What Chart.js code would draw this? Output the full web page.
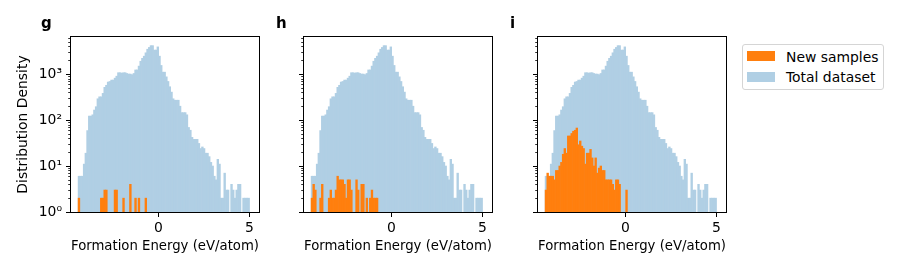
<!DOCTYPE html>
<html>
<head>
<meta charset="utf-8">
<script src="https://cdn.jsdelivr.net/npm/chart.js@4.4.1/dist/chart.umd.min.js"></script>
<style>
  html, body { margin: 0; padding: 0; background: #ffffff; }
  body { width: 900px; height: 270px; position: relative; overflow: hidden; font-family: "DejaVu Sans", sans-serif; color: #000; }
  canvas { position: absolute; top: 0; }
  .panel-letter { position: absolute; font-family: "DejaVu Sans", sans-serif; font-weight: bold; font-size: 15px; line-height: 15px; white-space: nowrap; }
  .legend-box { position: absolute; left: 742px; top: 44px; width: 142px; height: 46px; box-sizing: border-box; border: 1px solid #d5d5d5; border-radius: 3px; background: rgba(255,255,255,0.8); }
  .legend-patch { position: absolute; width: 28px; height: 10px; }
  .legend-text { position: absolute; font-family: "DejaVu Sans", sans-serif; font-size: 13.9px; line-height: 14px; white-space: nowrap; }
</style>
</head>
<body>
<canvas id="cg" width="265" height="270" style="left:0px"></canvas>
<canvas id="ch" width="220" height="270" style="left:280px"></canvas>
<canvas id="ci" width="220" height="270" style="left:515px"></canvas>

<div class="panel-letter" style="left:41px; top:16px;">g</div>
<div class="panel-letter" style="left:276px; top:16px;">h</div>
<div class="panel-letter" style="left:510px; top:16px;">i</div>

<div class="legend-box"></div>
<div class="legend-patch" style="left:747px; top:51px; background:#ff7f0e;"></div>
<div class="legend-text" style="left:786px; top:50px;">New samples</div>
<div class="legend-patch" style="left:747px; top:72px; background:rgb(176,207,228);"></div>
<div class="legend-text" style="left:786px; top:70px;">Total dataset</div>

<script>
// ---------------- data ----------------
// histogram bins (100 equal bins of formation energy, eV/atom)
const binStart = -4.42;
const binWidth = 0.0942;
const binCount = 100;

// total dataset counts per bin (shared by all three panels)
const totalCounts = [
  6, 6, 6, 11, 19, 59, 122, 122, 130, 165,
  195, 290, 320, 320, 380, 515, 570, 670, 690, 740,
  740, 815, 900, 1070, 1070, 1050, 1070, 1070, 1030, 1000,
  1000, 970, 1030, 1230, 1230, 1490, 1900, 2200, 2450, 2900,
  3470, 3800, 4150, 4150, 3330, 3330, 3900, 2450, 1540, 1100,
  1100, 870, 690, 530, 405, 290, 270, 270, 270, 200,
  145, 145, 145, 130, 69, 60, 42, 38, 38, 38,
  31, 24, 26, 24, 19, 19, 16, 12, 10, 6,
  5, 14, 11, 2, 2, 7, 3, 3, 0, 4,
  3, 2, 3, 4, 4, 0, 2, 2, 2, 2
];

// new samples counts per bin, panel g
const newSamplesG = [
  2, 0, 0, 0, 0, 0, 0, 0, 0, 0,
  0, 0, 0, 2, 2, 3, 3, 0, 0, 0,
  0, 3, 3, 0, 0, 0, 2, 0, 0, 0,
  4, 0, 0, 2, 0, 2, 0, 0, 0, 2
];

// new samples counts per bin, panel h
const newSamplesH = [
  2, 4, 3, 0, 0, 2, 4, 0, 0, 0,
  2, 3, 2, 2, 3, 6, 5, 5, 5, 4,
  2, 5, 5, 3, 0, 0, 5, 3, 0, 4,
  4, 0, 2, 0, 2, 3, 2, 2, 2
];

// new samples counts per bin, panel i
const newSamplesI = [
  3, 7, 6, 6, 6, 5, 8, 8, 10, 12,
  18, 24, 19, 45, 45, 51, 57, 60, 67, 29,
  35, 27, 24, 11, 19, 19, 23, 15, 10, 15,
  7, 9, 10, 8, 8, 5, 5, 5, 5, 4,
  3, 5, 5, 4, 0, 0, 0, 3
];

// axis settings
const xLimits = [-4.81, 5.52];
const xTickValues = [0, 5];
const yLimits = [1, 6400];
const yTickValues = [1, 10, 100, 1000];
const yTickLabels = ['10\u2070', '10\u00B9', '10\u00B2', '10\u00B3'];
const yMinorValues = [2,3,4,5,6,7,8,9,20,30,40,50,60,70,80,90,200,300,400,500,600,700,800,900,2000,3000,4000,5000,6000];

const panelLetters = ['g', 'h', 'i'];
const seriesNames = ['New samples', 'Total dataset'];
const xTitle = 'Formation Energy (eV/atom)';
const yTitle = 'Distribution Density';

// ---------------- styles ----------------
const ORANGE = '#ff7f0e';
const LIGHTBLUE = 'rgb(176,207,228)';
const FONT = 'DejaVu Sans';
const FS = 13.9;

Chart.defaults.font.family = FONT;
Chart.defaults.font.size = FS;
Chart.defaults.color = '#000';

function toPoints(counts) {
  const pts = [];
  for (let i = 0; i < binCount; i++) {
    const c = i < counts.length ? counts[i] : 0;
    pts.push({ x: binStart + binWidth * (i + 0.5), y: c > 0 ? c : null });
  }
  return pts;
}

const framePlugin = {
  id: 'frame',
  afterDraw(chart) {
    const { ctx, chartArea: a, scales } = chart;
    ctx.save();
    // minor log ticks
    ctx.strokeStyle = '#000';
    ctx.lineWidth = 0.8;
    ctx.beginPath();
    for (const v of yMinorValues) {
      if (v > yLimits[1]) continue;
      const p = Math.round(scales.y.getPixelForValue(v)) + 0.5;
      ctx.moveTo(a.left - 2.8, p);
      ctx.lineTo(a.left, p);
    }
    ctx.stroke();
    // spines
    ctx.lineWidth = 1;
    ctx.strokeRect(Math.round(a.left) - 0.5, Math.round(a.top) - 0.5,
                   Math.round(a.right) - Math.round(a.left) + 1, Math.round(a.bottom) - Math.round(a.top) + 1);
    ctx.restore();
  }
};

function makePanel(id, newCounts, showY, yWidth, padRight) {
  const common = { grouped: false, barPercentage: 1, categoryPercentage: 1, borderWidth: 0 };
  return new Chart(document.getElementById(id), {
    type: 'bar',
    data: {
      datasets: [
        Object.assign({ label: seriesNames[0], data: toPoints(newCounts), backgroundColor: ORANGE }, common),
        Object.assign({ label: seriesNames[1], data: toPoints(totalCounts), backgroundColor: LIGHTBLUE }, common)
      ]
    },
    options: {
      responsive: false,
      animation: false,
      devicePixelRatio: 1,
      layout: { padding: { left: 0, right: padRight, top: 37, bottom: 0 } },
      plugins: { legend: { display: false }, tooltip: { enabled: false }, title: { display: false } },
      scales: {
        x: {
          type: 'linear',
          min: xLimits[0], max: xLimits[1],
          offset: false,
          afterBuildTicks: (s) => { s.ticks = xTickValues.map(v => ({ value: v })); },
          afterFit: (s) => { s.height = 58; },
          ticks: { autoSkip: false, maxRotation: 0, padding: 3, color: '#000', font: { size: FS },
                   callback: (v) => String(v) },
          grid: { display: true, offset: false, drawOnChartArea: false, drawTicks: true, tickLength: 5, tickColor: '#000', tickWidth: 1 },
          border: { display: false },
          title: { display: true, text: xTitle, color: '#000', font: { size: FS }, padding: { top: 0, bottom: 15 } }
        },
        y: {
          type: 'logarithmic',
          min: yLimits[0], max: yLimits[1],
          afterBuildTicks: (s) => { s.ticks = yTickValues.map(v => ({ value: v, major: true })); },
          afterFit: (s) => { s.width = yWidth; },
          ticks: { display: showY, autoSkip: false, padding: 4, color: '#000', font: { size: FS },
                   callback: (v) => { const k = yTickValues.indexOf(v); return k >= 0 ? yTickLabels[k] : ''; } },
          grid: { display: true, drawOnChartArea: false, drawTicks: true, tickLength: 5, tickColor: '#000', tickWidth: 1 },
          border: { display: false },
          title: { display: showY, text: yTitle, color: '#000', font: { size: FS }, padding: { top: 15, bottom: 0 } }
        }
      }
    },
    plugins: [framePlugin]
  });
}

makePanel('cg', newSamplesG, true, 71, 6);
makePanel('ch', newSamplesH, false, 24, 8);
makePanel('ci', newSamplesI, false, 23, 9);
</script>
</body>
</html>
